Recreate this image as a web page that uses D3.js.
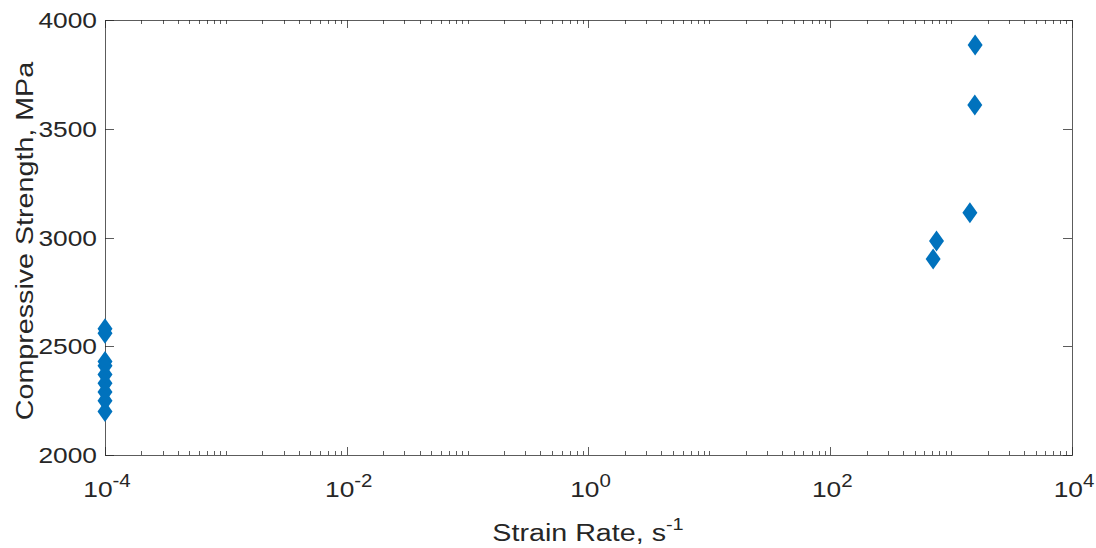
<!DOCTYPE html>
<html>
<head>
<meta charset="utf-8">
<script src="https://cdn.jsdelivr.net/npm/d3@7"></script>
<style>
  body { margin: 0; background: #fff; }
  text { font-family: "Liberation Sans", Arial, sans-serif; fill: #262626; }
</style>
</head>
<body>
<svg id="chart" width="1096" height="548"></svg>
<script>
// strain rate (1/s) and compressive strength (MPa)
var quasiRate = [1e-4, 1e-4, 1e-4, 1e-4, 1e-4, 1e-4, 1e-4, 1e-4, 1e-4]
var quasiStrength = [2580, 2560, 2430, 2410, 2370, 2330, 2290, 2250, 2200]
var dynRate = [1580, 1570, 1430, 757, 710]
var dynStrength = [3885, 3609, 3114, 2984, 2901]
var yTicks = [2000, 2500, 3000, 3500, 4000]
var xLabelExp = [-4, -2, 0, 2, 4]

var svg = d3.select("#chart")
var m = {left: 105, right: 1072, top: 20, bottom: 455}
var x = d3.scaleLog().domain([1e-4, 1e4]).range([m.left, m.right])
var y = d3.scaleLinear().domain([2000, 4000]).range([m.bottom, m.top])
var axisCol = "#262626"
var sx = 1.17   // text is a bit wider than Arial in the original

// log ticks - major at even powers, minor elsewhere
var ticks = []
for (var e = -4; e < 4; e++) {
   for (var k = 1; k < 10; k++) {
      var v = k * Math.pow(10, e)
      ticks.push({v: v, major: k == 1 && e % 2 == 0})
   }
}
ticks.push({v: 1e4, major: true})

var grp_ticks = svg.append("g").attr("stroke", axisCol).attr("stroke-width", 1).attr("opacity", 0.75)
ticks.forEach(function(t) {
   var len = t.major ? 8 : 4
   var px = Math.round(x(t.v)) + 0.5
   grp_ticks.append("line").attr("x1", px).attr("x2", px).attr("y1", m.bottom).attr("y2", m.bottom - len)
   grp_ticks.append("line").attr("x1", px).attr("x2", px).attr("y1", m.top).attr("y2", m.top + len)
})
yTicks.forEach(function(v) {
   var py = Math.round(y(v)) + 0.5
   grp_ticks.append("line").attr("x1", m.left).attr("x2", m.left + 9).attr("y1", py).attr("y2", py)
   grp_ticks.append("line").attr("x1", m.right).attr("x2", m.right - 9).attr("y1", py).attr("y2", py)
})

svg.append("rect")
   .attr("x", m.left + 0.5).attr("y", m.top + 0.5)
   .attr("width", m.right - m.left).attr("height", m.bottom - m.top)
   .attr("fill", "none").attr("stroke", axisCol).attr("stroke-width", 1).attr("opacity", 0.75)

// tick labels
svg.append("g").selectAll("text").data(yTicks).join("text")
   .attr("transform", function(d) { return "translate(" + (m.left - 8) + "," + (y(d) + 8) + ") scale(" + sx + ",1)" })
   .attr("text-anchor", "end").attr("font-size", 22.5)
   .text(function(d) { return d })

var xl = svg.append("g").selectAll("text").data(xLabelExp).join("text")
   .attr("transform", function(d) { return "translate(" + (x(Math.pow(10, d)) + 2) + ",497) scale(" + sx + ",1)" })
   .attr("text-anchor", "middle").attr("font-size", 22.5)
xl.append("tspan").text("10")
xl.append("tspan").attr("dy", -10).attr("font-size", 17.5).text(function(d) { return d })

// axis labels
var xt = svg.append("text").attr("transform", "translate(588,541) scale(" + sx + ",1)")
   .attr("text-anchor", "middle").attr("font-size", 24.5)
xt.append("tspan").text("Strain Rate, s")
xt.append("tspan").attr("dy", -11).attr("font-size", 17).text("-1")

svg.append("text")
   .attr("transform", "translate(33,241) rotate(-90) scale(" + sx + ",1)")
   .attr("text-anchor", "middle").attr("font-size", 24.5)
   .text("Compressive Strength, MPa")

// markers
var pts = quasiRate.map(function(r, i) { return [r, quasiStrength[i]] })
   .concat(dynRate.map(function(r, i) { return [r, dynStrength[i]] }))
svg.append("g").selectAll("path").data(pts).join("path")
   .attr("d", "M0,-10.5L7.5,0L0,10.5L-7.5,0Z")
   .attr("transform", function(d) { return "translate(" + x(d[0]) + "," + y(d[1]) + ")" })
   .attr("fill", "#0072BD")
</script>
</body>
</html>
